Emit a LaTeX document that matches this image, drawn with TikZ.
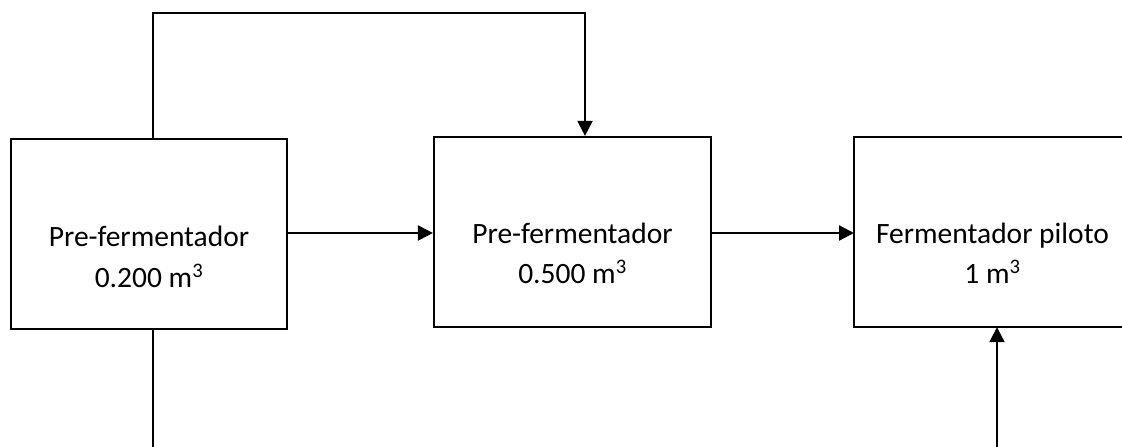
\documentclass[tikz,border=0pt]{standalone}
\usepackage{fontspec}
\setmainfont{Carlito}
\usetikzlibrary{arrows.meta}
\tikzset{
  vessel/.style={draw=black, line width=2.2pt, fill=white, inner sep=0pt},
  openvessel/.style={inner sep=0pt},
  lbl/.style={inner sep=0pt, anchor=base, font=\fontsize{29.5}{35}\selectfont},
  flow/.style={line width=2.2pt, -{Triangle[length=15pt,width=15pt]}},
  pipe/.style={line width=2.2pt}
}
\begin{document}
\begin{tikzpicture}[x=1pt, y=-1pt]
\useasboundingbox (0,0) rectangle (1122,447);
\clip (0,0) rectangle (1122,447);

% vessels
\node[vessel, minimum width=276pt, minimum height=190pt] (b1) at (149,234) {};
\node[vessel, minimum width=277pt, minimum height=190pt] (b2) at (572.5,232) {};
% the pilot fermenter runs past the right margin: only three sides are drawn
\node[openvessel, minimum width=320pt, minimum height=190pt, anchor=west] (b3) at (854,232) {};
\draw[pipe] (b3.north east) -- (b3.north west) -- (b3.south west) -- (b3.south east);

% labels
\node[lbl] (l1a) at (149,246) {Pre-fermentador};
\node[lbl] (l1b) at (149,287) {0.200 m\textsuperscript{3}};
\node[lbl] (l2a) at (572.5,243) {Pre-fermentador};
\node[lbl] (l2b) at (572.5,283) {0.500 m\textsuperscript{3}};
\node[lbl] (l3a) at (992.5,243) {Fermentador piloto};
\node[lbl] (l3b) at (992.5,283) {1 m\textsuperscript{3}};

% routing points
\coordinate (tl) at (153,13);
\coordinate (tr) at (585,13);
\coordinate (bl) at (153,447);
\coordinate (br) at (997,447);
\coordinate (h) at (0,233);

% bypass line over the top into the second vessel
\draw[flow] (b1.north -| tl) -- (tl) -- (tr) -- (b2.north -| tr);
% outlet from the bottom of the first vessel
\draw[pipe] (b1.south -| bl) -- (bl);
% feed into the pilot fermenter from below
\draw[flow] (br) -- (b3.south -| br);
% transfers between vessels
\draw[flow] (b1.east |- h) -- (b2.west |- h);
\draw[flow] (b2.east |- h) -- (b3.west |- h);
\end{tikzpicture}
\end{document}
